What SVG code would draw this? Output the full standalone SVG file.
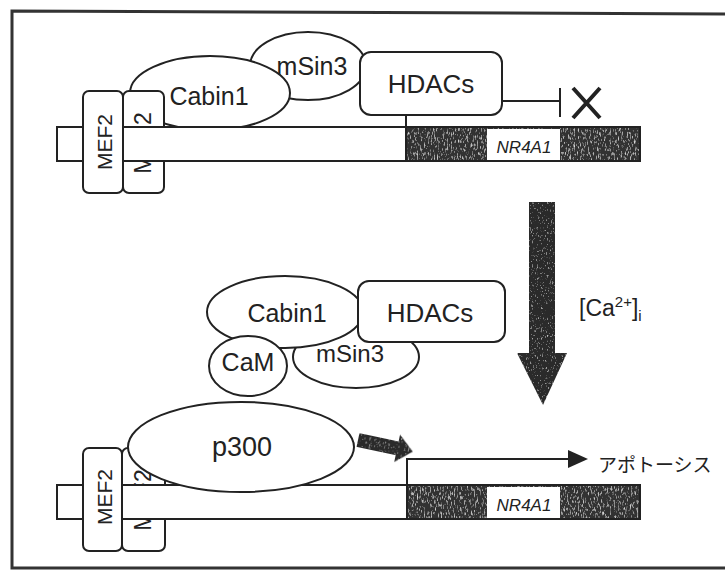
<svg xmlns="http://www.w3.org/2000/svg" width="725" height="571" viewBox="0 0 725 571">
<style>
.ln{fill:none;stroke:#222;stroke-width:2}
.sh{fill:#fff;stroke:#222;stroke-width:2}
.t{font-family:"Liberation Sans",Arial,sans-serif;fill:#222;text-anchor:middle}
.big{font-size:25px}
.mef{font-size:21px}
.gene{font-size:17px;font-style:italic}
</style>
<defs>
<filter id="tex" x="0" y="0" width="100%" height="100%">
<feTurbulence type="fractalNoise" baseFrequency="0.7 0.25" numOctaves="2" seed="4" result="n"/>
<feColorMatrix in="n" type="matrix" values="0 0 0 0 0.85 0 0 0 0 0.85 0 0 0 0 0.85 2.4 0 0 0 -1.3" result="w"/>
<feComposite in="w" in2="SourceGraphic" operator="atop"/>
</filter>
<filter id="tex2" x="0" y="0" width="100%" height="100%">
<feTurbulence type="fractalNoise" baseFrequency="0.8 0.4" numOctaves="2" seed="7" result="n"/>
<feColorMatrix in="n" type="matrix" values="0 0 0 0 0.8 0 0 0 0 0.8 0 0 0 0 0.8 2.2 0 0 0 -1.35" result="w"/>
<feComposite in="w" in2="SourceGraphic" operator="atop"/>
</filter>
</defs>
<rect width="725" height="571" fill="#fff"/>
<path d="M727 14 L12 11 L12 568 L727 568" fill="none" stroke="#333" stroke-width="3"/>

<!-- TOP STATE -->
<g id="top-msin3"><ellipse class="sh" cx="308" cy="66" rx="58" ry="34"/><text class="t big" x="312" y="75">mSin3</text></g>
<g id="top-cabin1"><ellipse class="sh" cx="210" cy="93" rx="80" ry="37"/><text class="t big" x="209" y="105">Cabin1</text></g>
<g id="top-hdacs"><rect class="sh" x="360" y="52" width="142" height="63" rx="11"/><text class="t" style="font-size:26px" x="431" y="93">HDACs</text></g>
<g id="top-mef2b"><rect class="sh" x="123" y="91" width="41" height="102" rx="6"/><text class="t mef" transform="translate(151,143) rotate(-90)" style="font-size:23px">MEF2</text></g>
<g id="top-dna">
<rect class="sh" x="57" y="127" width="583" height="34"/>
<rect x="406" y="127" width="234" height="34" fill="#333" filter="url(#tex)"/>
<rect x="406" y="127" width="234" height="34" class="ln"/>
<rect x="487" y="129" width="73" height="31" fill="#fff"/>
<text class="t gene" x="524" y="153">NR4A1</text>
</g>
<g id="top-mef2a"><rect class="sh" x="83" y="91" width="40" height="102" rx="6"/><text class="t mef" transform="translate(112,142) rotate(-90)">MEF2</text></g>
<g id="top-block">
<path class="ln" d="M502 101 H560 M560 88 V117"/>
<path d="M573 88 L600 118 M600 88 L573 118" fill="none" stroke="#222" stroke-width="4"/>
</g>

<!-- CALCIUM ARROW -->
<g id="ca-arrow">
<path d="M529 202 H555 V353 H567 L543 405 L517 353 H529 Z" fill="#2a2a2a" filter="url(#tex2)"/>
<text class="t" style="font-size:23px;text-anchor:start" x="579" y="316">[Ca<tspan style="font-size:15px" dy="-9">2+</tspan><tspan dy="9">]</tspan><tspan style="font-size:15px" dy="5">i</tspan></text>
</g>

<!-- MIDDLE COMPLEX -->
<g id="mid-msin3"><ellipse class="sh" cx="356" cy="357" rx="63" ry="31"/><text class="t" style="font-size:24px" x="350" y="362">mSin3</text></g>
<g id="mid-cabin1"><ellipse class="sh" cx="285" cy="312" rx="78" ry="36"/><text class="t big" x="287" y="322">Cabin1</text></g>
<g id="mid-hdacs"><rect class="sh" x="358" y="281" width="147" height="61" rx="11"/><text class="t" style="font-size:26px" x="430" y="322">HDACs</text></g>
<g id="mid-cam"><ellipse class="sh" cx="248" cy="366" rx="39" ry="30"/><text class="t big" x="248" y="371">CaM</text></g>

<!-- BOTTOM STATE -->
<g id="bot-mef2b"><rect class="sh" x="122" y="448" width="43" height="103" rx="6"/><text class="t mef" transform="translate(151,500) rotate(-90)" style="font-size:23px">MEF2</text></g>
<g id="bot-dna">
<rect class="sh" x="57" y="485" width="583" height="34"/>
<rect x="407" y="485" width="233" height="34" fill="#333" filter="url(#tex)"/>
<rect x="407" y="485" width="233" height="34" class="ln"/>
<rect x="487" y="487" width="73" height="31" fill="#fff"/>
<text class="t gene" x="524" y="511">NR4A1</text>
</g>
<g id="bot-p300"><ellipse class="sh" cx="241" cy="447" rx="113" ry="45"/><text class="t" style="font-size:27px" x="242" y="456">p300</text></g>
<g id="bot-mef2a"><rect class="sh" x="83" y="448" width="39" height="103" rx="6"/><text class="t mef" transform="translate(112,497) rotate(-90)">MEF2</text></g>

<g id="connectors">
<path class="ln" d="M406 115 V127"/>
<path class="ln" d="M407 485 V459 H570"/>
<polygon points="568,450 588,459 568,468" fill="#222"/>
<path d="M0 -7 L40 -7 L40 -14 L56 0 L40 14 L40 7 L0 7 Z" fill="#2a2a2a" filter="url(#tex2)" transform="translate(358,440) rotate(12)"/>
</g>
<text id="apoptosis" x="598" y="472" style="font-family:'Liberation Sans','Noto Sans CJK JP',sans-serif;font-size:19px;fill:#222">アポトーシス</text>
</svg>
